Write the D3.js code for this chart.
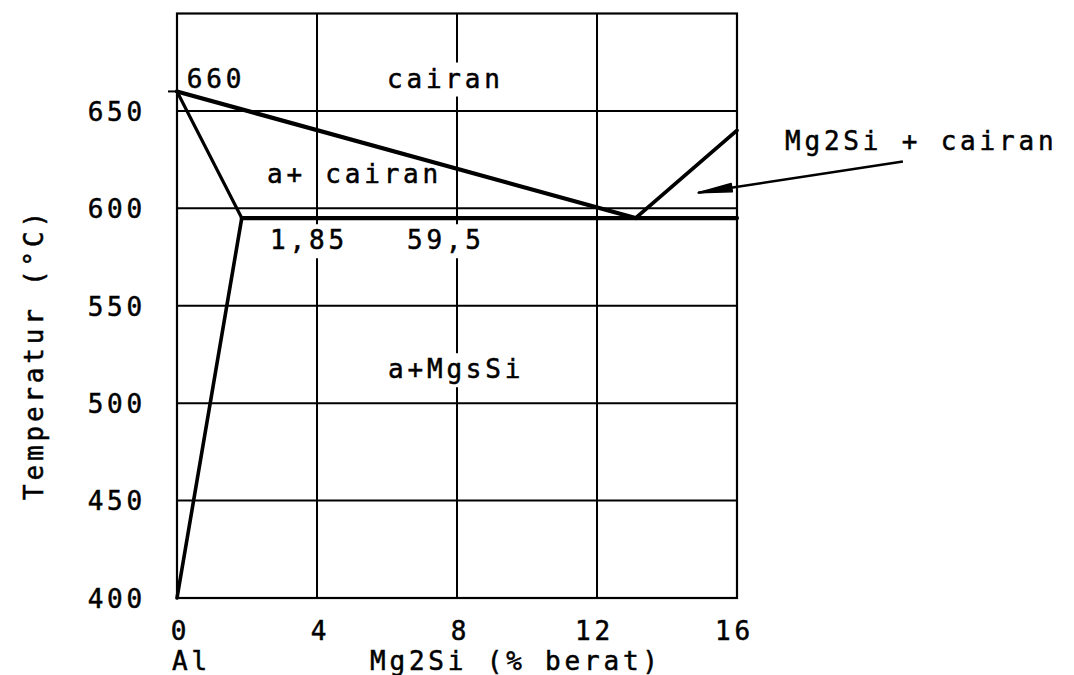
<!DOCTYPE html>
<html>
<head>
<meta charset="utf-8">
<script src="https://cdn.jsdelivr.net/npm/d3@7"></script>
<style>
  html, body { margin: 0; padding: 0; background: #fff; }
  svg { display: block; background: #fff; }
  text { font-family: "DejaVu Sans Mono", monospace; font-size: 26px; letter-spacing: 3.8px;
         fill: #000; stroke: #000; stroke-width: 0.5px; }
</style>
</head>
<body>
<svg id="chart" width="1074" height="675"></svg>
<script>
// Axis ticks
const compositionTicks = [0, 4, 8, 12, 16];              // Mg2Si, % berat
const temperatureTicks = [400, 450, 500, 550, 600, 650]; // °C
const gridComps = [4, 8, 12];
const gridTemps = [450, 500, 550, 600, 650];

// Phase boundaries (composition %, temperature °C)
const liquidusAl    = [[0, 660], [13.1, 595]];
const liquidusMg2Si = [[13.1, 595], [16, 640]];
const solidus       = [[0, 660], [1.85, 595]];
const solvus        = [[1.85, 595], [0, 400]];
const eutectic      = [[1.85, 595], [16, 595]];

const svg = d3.select("#chart");

const x = d3.scaleLinear().domain([0, 16]).range([177, 737]);
const y = d3.scaleLinear().domain([400, 700]).range([598, 13.5]);

const line = d3.line().x(d => x(d[0])).y(d => y(d[1]));

// Grid
const grid = svg.append("g").attr("stroke", "#000").attr("stroke-width", 2);
grid.selectAll("line.h").data(gridTemps).join("line")
  .attr("class", "h")
  .attr("x1", x(0)).attr("x2", x(16))
  .attr("y1", d => y(d)).attr("y2", d => y(d));
grid.selectAll("line.v").data(gridComps).join("line")
  .attr("class", "v")
  .attr("x1", d => x(d)).attr("x2", d => x(d))
  .attr("y1", y(700)).attr("y2", y(400));

// Layer for the white gaps that labels cut into the grid
const gaps = svg.append("g");

// Frame
svg.append("rect")
  .attr("x", x(0)).attr("y", y(700))
  .attr("width", x(16) - x(0)).attr("height", y(400) - y(700))
  .attr("fill", "none").attr("stroke", "#000").attr("stroke-width", 2.2);

// Small tick marking the melting point of Al
svg.append("line")
  .attr("x1", x(0) - 9).attr("x2", x(0))
  .attr("y1", y(660)).attr("y2", y(660))
  .attr("stroke", "#000").attr("stroke-width", 2);

// Phase lines
const phases = [
  { d: liquidusAl, w: 4.2 },
  { d: liquidusMg2Si, w: 3.8 },
  { d: solidus, w: 3.2 },
  { d: solvus, w: 3.6 },
  { d: eutectic, w: 4.2 }
];
svg.append("g").selectAll("path").data(phases).join("path")
  .attr("d", p => line(p.d))
  .attr("fill", "none").attr("stroke", "#000")
  .attr("stroke-width", p => p.w)
  .attr("stroke-linejoin", "round").attr("stroke-linecap", "round");

// Axes
const yAxis = d3.axisLeft(y).tickValues(temperatureTicks).tickSize(0).tickPadding(31);
const gy = svg.append("g").attr("transform", `translate(${x(0)},0)`).call(yAxis);
gy.select(".domain").remove();
gy.selectAll("text").attr("font-size", 26).attr("font-family", "DejaVu Sans Mono").attr("dy", "0.36em");

const xAxis = d3.axisBottom(x).tickValues(compositionTicks).tickSize(0).tickPadding(24);
const gx = svg.append("g").attr("transform", `translate(0,${y(400)})`).call(xAxis);
gx.select(".domain").remove();
gx.selectAll("text").attr("font-size", 26).attr("font-family", "DejaVu Sans Mono")
  .attr("dy", "0.71em").attr("dx", d => (d >= 10 ? -3 : 3));

// Axis titles
svg.append("text").attr("x", 172).attr("y", 670).text("Al");
svg.append("text").attr("x", 370).attr("y", 670).text("Mg2Si (% berat)");
svg.append("text")
  .attr("transform", "translate(43,354) rotate(-90)")
  .attr("text-anchor", "middle")
  .text("Temperatur (°C)");

// Region and point labels: [text, composition, temperature, cuts grid]
const labels = [
  ["660", 0.28, 662, false],
  ["cairan", 6.0, 662, true],
  ["a+ cairan", 2.57, 612.8, false],
  ["1,85", 2.66, 579, true],
  ["59,5", 6.57, 579, true],
  ["a+MgsSi", 6.03, 512.8, true]
];
const lbl = svg.append("g");
labels.forEach(([t, cx, ty, cut]) => {
  const el = lbl.append("text").attr("x", x(cx)).attr("y", y(ty)).text(t);
  if (cut) {
    const b = el.node().getBBox();
    gaps.append("rect")
      .attr("x", b.x - 4).attr("y", b.y - 1)
      .attr("width", b.width + 6).attr("height", b.height + 4)
      .attr("fill", "#fff");
  }
});

// Callout for the Mg2Si + liquid field
const tip = [14.89, 608];
const tail = [20.74, 624];
svg.append("line")
  .attr("x1", x(tail[0])).attr("y1", y(tail[1]))
  .attr("x2", x(tip[0])).attr("y2", y(tip[1]))
  .attr("stroke", "#000").attr("stroke-width", 2.6);
{
  const tx = x(tip[0]), ty = y(tip[1]);
  const dx = x(tail[0]) - tx, dy = y(tail[1]) - ty;
  const len = Math.hypot(dx, dy), ux = dx / len, uy = dy / len;
  const bx = tx + ux * 34, by = ty + uy * 34;
  const px = -uy * 4.2, py = ux * 4.2;
  svg.append("path")
    .attr("d", `M${tx},${ty} L${bx + px},${by + py} L${bx - px},${by - py} Z`)
    .attr("fill", "#000").attr("stroke", "#000").attr("stroke-width", 1.5)
    .attr("stroke-linejoin", "round");
}
svg.append("text").attr("x", 785).attr("y", 150).text("Mg2Si + cairan");
</script>
</body>
</html>
